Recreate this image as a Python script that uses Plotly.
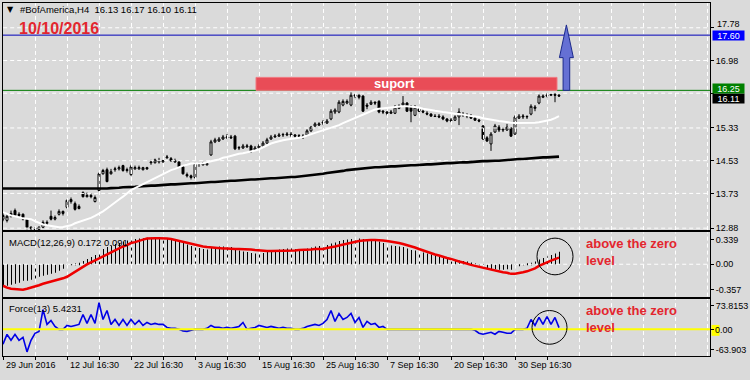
import plotly.graph_objects as go

# ---------------- data ----------------
header_text = "#BofAmerica,H4  16.13 16.17 16.10 16.11"
date_text = "10/10/2016"
macd_label = "MACD(12,26,9) 0.172 0.091"
force_label = "Force(13) 5.4231"
zone_label = "suport"
note_text = "above the zero<br>level"

open_ = [13.10,13.07,13.17,13.31,13.19,13.22,13.10,12.90,12.88,12.85,
         12.90,13.00,13.17,13.10,13.22,13.29,13.39,13.53,13.48,13.36,
         13.75,13.65,13.68,13.53,13.80,14.21,14.31,14.21,14.31,14.33,
         14.41,14.29,14.19,14.33,14.33,14.31,14.36,14.48,14.48,14.50,
         14.50,14.60,14.58,14.53,14.50,14.38,14.19,14.16,14.12,14.45,
         14.43,14.43,14.67,14.99,15.01,15.06,15.09,15.11,15.13,14.84,
         14.84,14.87,14.89,14.79,14.84,14.89,14.96,15.06,15.11,15.13,
         15.16,15.16,15.18,15.16,15.13,15.11,15.16,15.26,15.38,15.40,
         15.45,15.45,15.55,15.72,15.72,15.89,15.94,15.89,16.11,16.13,
         16.11,15.89,15.91,15.96,15.98,15.74,15.72,15.69,15.69,15.81,
         15.89,15.94,15.84,15.64,15.79,15.74,15.69,15.67,15.62,15.62,
         15.60,15.55,15.50,15.52,15.60,15.67,15.64,15.62,15.57,15.52,
         15.38,15.09,14.94,15.23,15.35,15.28,15.28,15.33,15.18,15.57,
         15.60,15.60,15.67,15.81,15.94,16.08,16.11,16.13,16.15,16.13]
high = [13.27,13.22,13.31,13.36,13.27,13.24,13.12,12.93,12.90,12.93,
        13.07,13.07,13.31,13.19,13.34,13.31,13.58,13.63,13.53,13.46,
        13.78,13.75,13.73,13.68,14.24,14.33,14.36,14.33,14.38,14.41,
        14.43,14.36,14.43,14.41,14.41,14.38,14.38,14.55,14.58,14.60,
        14.55,14.67,14.62,14.58,14.53,14.41,14.24,14.19,14.48,14.48,
        14.50,14.48,15.04,15.09,15.11,15.16,15.18,15.16,15.16,14.89,
        14.94,14.94,14.92,14.89,14.94,15.01,15.09,15.16,15.18,15.21,
        15.21,15.23,15.23,15.18,15.18,15.18,15.30,15.38,15.47,15.47,
        15.52,15.55,15.79,15.81,16.01,16.03,16.03,16.20,16.18,16.15,
        16.13,15.94,16.01,15.98,16.01,15.77,15.74,15.77,15.89,15.91,
        16.11,15.96,15.89,15.89,15.84,15.79,15.74,15.69,15.67,15.67,
        15.64,15.57,15.57,15.64,15.81,15.72,15.69,15.67,15.60,15.55,
        15.40,15.13,15.23,15.43,15.40,15.35,15.43,15.35,15.64,15.67,
        15.67,15.64,15.91,15.89,16.15,16.15,16.18,16.18,16.18,16.17]
low = [13.05,13.02,13.14,13.17,13.14,13.07,12.85,12.83,12.83,12.83,
       12.88,12.95,13.07,13.07,13.19,13.19,13.36,13.48,13.31,13.34,
       13.63,13.63,13.61,13.51,13.78,14.19,14.00,14.19,14.26,14.29,
       14.26,14.24,14.16,14.31,14.31,14.29,14.31,14.43,14.46,14.46,
       14.48,14.58,14.50,14.48,14.36,14.19,14.12,14.07,14.09,14.38,
       14.41,14.41,14.65,14.96,14.99,15.04,15.06,15.06,14.79,14.79,
       14.82,14.84,14.72,14.77,14.82,14.87,14.94,15.04,15.09,15.11,
       15.11,15.13,15.11,15.09,15.09,15.06,15.13,15.23,15.35,15.38,
       15.40,15.43,15.52,15.67,15.69,15.86,15.91,15.86,16.06,16.03,
       15.72,15.79,15.89,15.89,15.69,15.67,15.64,15.67,15.67,15.79,
       15.86,15.72,15.47,15.62,15.72,15.69,15.64,15.60,15.60,15.57,
       15.52,15.47,15.47,15.50,15.40,15.60,15.57,15.55,15.50,15.47,
       15.04,14.99,14.77,15.21,15.23,15.23,15.26,15.11,15.16,15.55,
       15.55,15.55,15.64,15.74,15.91,16.06,16.08,16.11,15.96,16.10]
close = [13.19,13.17,13.24,13.19,13.22,13.10,12.90,12.88,12.85,12.90,
         13.02,13.02,13.10,13.14,13.29,13.24,13.56,13.58,13.34,13.41,
         13.65,13.68,13.65,13.63,14.21,14.29,14.02,14.26,14.33,14.36,
         14.29,14.31,14.38,14.36,14.36,14.36,14.33,14.50,14.55,14.53,
         14.53,14.62,14.53,14.50,14.38,14.21,14.16,14.12,14.46,14.46,
         14.46,14.46,14.99,15.04,15.06,15.11,15.11,15.09,14.82,14.85,
         14.89,14.89,14.75,14.84,14.89,14.96,15.04,15.11,15.13,15.16,
         15.17,15.18,15.16,15.13,15.14,15.13,15.26,15.35,15.43,15.43,
         15.47,15.50,15.74,15.77,15.96,15.98,15.98,16.13,16.13,16.08,
         15.74,15.86,15.96,15.94,15.72,15.72,15.69,15.72,15.84,15.86,
         15.94,15.74,15.74,15.84,15.74,15.72,15.67,15.62,15.61,15.60,
         15.55,15.50,15.52,15.60,15.72,15.64,15.62,15.57,15.52,15.50,
         15.06,15.01,15.18,15.38,15.28,15.30,15.35,15.13,15.60,15.62,
         15.62,15.61,15.86,15.84,16.11,16.11,16.13,16.15,16.13,16.11]
ma_fast = [13.27,13.22,13.19,13.17,13.14,13.12,13.11,13.10,13.05,13.01,
           12.97,12.95,12.93,12.91,12.90,12.91,12.93,12.95,13.00,13.03,
           13.07,13.10,13.13,13.18,13.23,13.29,13.36,13.44,13.51,13.58,
           13.65,13.74,13.81,13.86,13.91,13.96,14.01,14.05,14.10,14.15,
           14.20,14.25,14.30,14.33,14.37,14.41,14.43,14.46,14.46,14.46,
           14.47,14.49,14.52,14.54,14.56,14.60,14.62,14.65,14.67,14.70,
           14.71,14.73,14.75,14.78,14.81,14.86,14.90,14.95,14.98,15.01,
           15.03,15.05,15.06,15.07,15.09,15.11,15.15,15.18,15.21,15.24,
           15.27,15.30,15.34,15.36,15.40,15.45,15.49,15.53,15.57,15.61,
           15.66,15.69,15.74,15.78,15.80,15.81,15.83,15.84,15.85,15.86,
           15.86,15.86,15.85,15.84,15.83,15.80,15.79,15.77,15.75,15.73,
           15.72,15.71,15.69,15.68,15.67,15.66,15.64,15.62,15.61,15.60,
           15.57,15.55,15.54,15.51,15.50,15.49,15.47,15.46,15.45,15.45,
           15.45,15.45,15.45,15.46,15.47,15.49,15.50,15.53,15.57,15.62]
ma_slow = [13.85,13.85,13.85,13.85,13.85,13.85,13.85,13.85,13.84,13.84,
           13.84,13.84,13.84,13.84,13.84,13.84,13.84,13.84,13.84,13.84,
           13.84,13.84,13.84,13.84,13.84,13.85,13.85,13.86,13.86,13.87,
           13.88,13.88,13.89,13.89,13.90,13.91,13.91,13.92,13.92,13.93,
           13.94,13.94,13.95,13.95,13.96,13.97,13.97,13.98,13.98,13.99,
           14.00,14.00,14.01,14.01,14.02,14.03,14.03,14.04,14.04,14.05,
           14.06,14.06,14.07,14.07,14.08,14.09,14.09,14.10,14.10,14.11,
           14.12,14.12,14.13,14.13,14.14,14.15,14.16,14.17,14.19,14.20,
           14.21,14.23,14.24,14.26,14.27,14.28,14.30,14.31,14.32,14.34,
           14.35,14.36,14.36,14.37,14.37,14.38,14.38,14.39,14.39,14.40,
           14.41,14.41,14.42,14.42,14.43,14.43,14.44,14.44,14.45,14.46,
           14.46,14.47,14.47,14.48,14.48,14.49,14.49,14.50,14.51,14.51,
           14.52,14.52,14.53,14.53,14.53,14.54,14.55,14.55,14.56,14.57,
           14.57,14.58,14.59,14.59,14.60,14.61,14.61,14.62,14.62,14.63]
macd_main = [-0.298,-0.298,-0.284,-0.270,-0.257,-0.229,-0.229,-0.215,-0.202,-0.174,
             -0.160,-0.147,-0.133,-0.119,-0.091,-0.064,-0.023,-0.009,0.005,0.019,
             0.046,0.074,0.101,0.129,0.170,0.211,0.239,0.259,0.280,0.294,
             0.314,0.328,0.335,0.349,0.356,0.362,0.369,0.369,0.369,0.369,
             0.369,0.362,0.356,0.342,0.321,0.294,0.273,0.252,0.239,0.225,
             0.211,0.204,0.225,0.239,0.246,0.246,0.246,0.239,0.211,0.191,
             0.177,0.170,0.156,0.149,0.149,0.156,0.170,0.184,0.197,0.204,
             0.211,0.218,0.218,0.211,0.211,0.211,0.218,0.232,0.246,0.252,
             0.259,0.266,0.287,0.301,0.321,0.335,0.342,0.349,0.356,0.356,
             0.349,0.342,0.335,0.328,0.314,0.294,0.273,0.259,0.252,0.246,
             0.239,0.218,0.197,0.191,0.177,0.163,0.149,0.135,0.122,0.108,
             0.094,0.080,0.067,0.060,0.053,0.046,0.039,0.025,0.012,-0.002,
             -0.036,-0.064,-0.071,-0.071,-0.078,-0.078,-0.071,-0.078,-0.043,-0.023,
             -0.009,0.005,0.019,0.039,0.067,0.087,0.108,0.129,0.149,0.172]
macd_signal = [-0.298,-0.325,-0.339,-0.346,-0.353,-0.353,-0.339,-0.325,-0.311,-0.291,
               -0.270,-0.256,-0.243,-0.229,-0.215,-0.195,-0.174,-0.140,-0.105,-0.064,
               -0.030,-0.002,0.025,0.053,0.080,0.108,0.142,0.170,0.197,0.218,
               0.246,0.266,0.294,0.307,0.328,0.342,0.356,0.362,0.362,0.362,
               0.362,0.356,0.349,0.335,0.328,0.314,0.301,0.280,0.266,0.252,
               0.246,0.239,0.232,0.232,0.225,0.218,0.218,0.211,0.211,0.211,
               0.211,0.204,0.204,0.197,0.191,0.191,0.184,0.184,0.184,0.184,
               0.184,0.191,0.191,0.191,0.197,0.197,0.204,0.204,0.211,0.211,
               0.211,0.225,0.232,0.246,0.259,0.273,0.287,0.301,0.314,0.321,
               0.328,0.335,0.335,0.335,0.335,0.328,0.321,0.314,0.301,0.294,
               0.280,0.266,0.252,0.232,0.211,0.191,0.170,0.149,0.135,0.122,
               0.101,0.087,0.074,0.053,0.039,0.025,0.005,-0.009,-0.023,-0.036,
               -0.050,-0.064,-0.078,-0.084,-0.098,-0.112,-0.119,-0.133,-0.133,-0.126,
               -0.112,-0.098,-0.078,-0.057,-0.023,0.005,0.025,0.050,0.072,0.091]
force = [-46.3,-15.5,-34.0,-15.5,-34.0,-24.8,-70.0,-34.0,-12.4,-6.3,
         61.5,15.3,27.6,9.1,0,0,12.2,9.1,12.2,15.3,
         46.1,18.4,46.1,18.4,83.1,30.7,58.4,15.3,30.7,12.2,
         30.7,12.2,30.7,15.3,27.6,12.2,21.4,15.3,18.4,15.3,
         15.3,6.0,3.0,3.0,0,-4.7,-6.3,-3.2,0,0,
         0,3.0,12.2,6.0,6.0,3.0,6.0,3.0,6.0,9.1,
         21.4,0,3.0,6.0,12.2,9.1,6.0,9.1,6.0,3.0,
         6.0,3.0,3.0,0,0,3.0,9.1,12.2,15.3,12.2,
         18.4,30.7,58.4,24.6,49.2,30.7,36.9,49.2,21.4,36.9,
         6.0,24.6,15.3,18.4,6.0,9.1,0,0,0,0,
         0,0,0,0,0,0,0,0,0,0,
         0,0,0,0,0,0,0,0,-3.0,-12.2,
         -15.3,-12.2,-9.1,-15.3,-6.3,-9.1,-12.2,-12.2,0,0,
         0,3.0,30.7,12.2,36.9,15.3,39.9,15.3,36.9,5.4231]

price_ticks = [17.78, 16.98, 16.18, 15.33, 14.53, 13.73, 12.88]
price_tick_text = ["", "16.98", "", "15.33", "14.53", "13.73", "12.88"]
top_price_label = "17.78"
macd_ticks = [0.339, 0.0, -0.357]
macd_tick_text = ["0.339", "0.00", "-0.357"]
force_ticks = [73.8153, 0.0, -63.903]
force_tick_text = ["73.8153", "", "-63.903"]
time_labels = ["29 Jun 2016", "12 Jul 16:30", "22 Jul 16:30", "3 Aug 16:30",
               "15 Aug 16:30", "25 Aug 16:30", "7 Sep 16:30", "20 Sep 16:30",
               "30 Sep 16:30"]
time_label_bars = [0, 16, 32, 48, 64, 80, 96, 112, 128]

level_resist = 17.60
level_support = 16.25
bid_price = 16.11
zone_bars = (63.25, 138.5)
zone_prices = (16.25, 16.567)
arrow_bar = 140.85
arrow_prices = (16.25, 17.05, 17.85)

# ---------------- geometry (pixels) ----------------
W, H = 750, 380
L, R = 3, 710
MAIN, MACDP, FORCEP = (3, 232), (234, 299), (301, 359)
BAR_PX = 4
BG = "#dadada"
FONT = "Liberation Sans, Arial, sans-serif"
DASH = "4px,3px"


def fx(p):
    return p / W


def fy(p):
    return 1 - p / H


def dom(box):
    return [fy(box[1]), fy(box[0])]


bars = list(range(len(close)))
xmax = (R - L) / BAR_PX
tick_bars = list(range(0, 137, 8))
grid_bars = list(range(8, 177, 8))

p_top = 17.78 + (28 - MAIN[0]) / 41.22
p_bot = 17.78 - (MAIN[1] - 28) / 41.22
m_top = (266.35 - MACDP[0]) / 72.7
m_bot = -(MACDP[1] - 266.35) / 72.7
f_top = (331.96 - FORCEP[0]) / 0.32458
f_bot = -(FORCEP[1] - 331.96) / 0.32458

fig = go.Figure()
grid_style = dict(color="white", width=1, dash=DASH)


def add_grid(xa, ya, lo, hi, hvals):
    for g in grid_bars:
        fig.add_trace(go.Scatter(x=[g + 0.125, g + 0.125], y=[lo + (hi - lo) * 0.001, hi - (hi - lo) * 0.001],
                                 mode="lines", xaxis=xa, yaxis=ya, hoverinfo="skip",
                                 line=grid_style))
    for v in hvals:
        fig.add_trace(go.Scatter(x=[0.05, xmax - 0.05], y=[v, v], mode="lines", xaxis=xa, yaxis=ya,
                                 hoverinfo="skip", line=grid_style))


add_grid("x", "y", p_bot, p_top, price_ticks)
add_grid("x2", "y2", m_bot, m_top, [0.0])
add_grid("x3", "y3", f_bot, f_top, [])

fig.add_trace(go.Candlestick(
    x=bars, open=open_, high=high, low=low, close=close,
    increasing=dict(line=dict(color="black", width=1), fillcolor="white"),
    decreasing=dict(line=dict(color="black", width=1), fillcolor="black"),
    whiskerwidth=0, xaxis="x", yaxis="y", hoverinfo="skip"))
fig.add_trace(go.Scatter(x=bars, y=ma_slow, mode="lines",
                         line=dict(color="black", width=2.6), xaxis="x", yaxis="y"))
fig.add_trace(go.Scatter(x=bars, y=ma_fast, mode="lines",
                         line=dict(color="white", width=2), xaxis="x", yaxis="y"))

fig.add_trace(go.Bar(x=bars, y=macd_main, width=0.25, offset=0,
                     marker=dict(color="black", line=dict(width=0)),
                     xaxis="x2", yaxis="y2"))
fig.add_trace(go.Scatter(x=bars, y=macd_signal, mode="lines",
                         line=dict(color="#ee0000", width=2.5), xaxis="x2", yaxis="y2"))

fig.add_trace(go.Scatter(x=bars, y=force, mode="lines",
                         line=dict(color="#0000e6", width=1.6), xaxis="x3", yaxis="y3"))

xcommon = dict(domain=[fx(L), fx(R)], range=[0, xmax], tickmode="array", tickvals=tick_bars,
               showticklabels=False, zeroline=False, showline=True, mirror=True, showgrid=False,
               linecolor="black", linewidth=1)
ycommon = dict(side="right", zeroline=False, showline=True, mirror=True, linecolor="black",
               linewidth=1, ticks="outside", ticklen=3, tickcolor="black", tickmode="array",
               showgrid=False, tickfont=dict(family=FONT, size=9, color="black"))

fig.update_layout(
    width=W, height=H, margin=dict(l=0, r=0, t=0, b=0),
    paper_bgcolor=BG, plot_bgcolor=BG, showlegend=False,
    font=dict(family=FONT, size=9, color="black"),
    xaxis=dict(anchor="y", ticks="", rangeslider=dict(visible=False), **xcommon),
    xaxis2=dict(anchor="y2", ticks="", **xcommon),
    xaxis3=dict(anchor="y3", ticks="outside", ticklen=3, tickcolor="black", **xcommon),
    yaxis=dict(anchor="x", domain=dom(MAIN), range=[p_bot, p_top], tickvals=price_ticks,
               ticktext=price_tick_text, **ycommon),
    yaxis2=dict(anchor="x2", domain=dom(MACDP), range=[m_bot, m_top], tickvals=macd_ticks,
                ticktext=macd_tick_text, **ycommon),
    yaxis3=dict(anchor="x3", domain=dom(FORCEP), range=[f_bot, f_top], tickvals=force_ticks,
                ticktext=force_tick_text, **ycommon),
)

shapes = [
    dict(type="line", xref="paper", yref="y", x0=fx(L), x1=fx(R), y0=level_resist, y1=level_resist,
         line=dict(color="#0000b8", width=1), layer="above"),
    dict(type="line", xref="paper", yref="y", x0=fx(L), x1=fx(R), y0=level_support, y1=level_support,
         line=dict(color="#007a00", width=1), layer="above"),
    dict(type="rect", xref="x", yref="y", x0=zone_bars[0], x1=zone_bars[1],
         y0=zone_prices[0], y1=zone_prices[1], fillcolor="#e94c57",
         line=dict(color="#f07880", width=1), layer="above"),
    dict(type="path", xref="x", yref="y", layer="above",
         path=(f"M {arrow_bar-0.83},{arrow_prices[0]} L {arrow_bar-0.83},{arrow_prices[1]} "
               f"L {arrow_bar-1.75},{arrow_prices[1]} L {arrow_bar},{arrow_prices[2]} "
               f"L {arrow_bar+1.75},{arrow_prices[1]} L {arrow_bar+0.83},{arrow_prices[1]} "
               f"L {arrow_bar+0.83},{arrow_prices[0]} Z"),
         fillcolor="#6570d4", line=dict(color="#1c2a8c", width=1)),
    dict(type="line", xref="paper", yref="y3", x0=fx(L), x1=fx(R), y0=0, y1=0,
         line=dict(color="#ffff00", width=2), layer="above"),
    dict(type="circle", xref="x2", yref="y2", x0=133.5, x1=142.5, y0=-0.1465, y1=0.362,
         line=dict(color="black", width=1), layer="above"),
    dict(type="circle", xref="x3", yref="y3", x0=132.25, x1=141.0, y0=-46.3, y1=58.4,
         line=dict(color="black", width=1), layer="above"),
    dict(type="rect", xref="paper", yref="paper", x0=fx(711.5), x1=fx(719.5), y0=fy(338.5),
         y1=fy(327.5), fillcolor="#ffff00", line=dict(width=0), layer="below"),
]
fig.update_layout(shapes=shapes)

red = "#e3262e"


def txt(x, y, text, size=9, color="black", xanchor="left", family=FONT, **kw):
    d = dict(xref="paper", yref="paper", x=fx(x), y=fy(y), text=text, showarrow=False,
             xanchor=xanchor, yanchor="middle", font=dict(family=family, size=size, color=color))
    d.update(kw)
    return d


ann = [
    txt(10, 10, "▼", size=8, xanchor="center", family="DejaVu Sans"),
    txt(18, 10, header_text, size=9.5),
    txt(17, 28.5, f"<b>{date_text}</b>", size=16, color=red),
    txt(715, 24.5, top_price_label, size=9),
    dict(xref="paper", yref="y", x=fx(394), y=(zone_prices[0] + zone_prices[1]) / 2,
         xanchor="center", yanchor="middle", text=f"<b>{zone_label}</b>", showarrow=False,
         font=dict(family=FONT, size=13, color="white")),
    txt(7, 244, macd_label, size=9.5),
    txt(7, 310.5, force_label, size=9.5),
    txt(584, 254.5, f"<b>{note_text}</b>", size=13, color=red, align="left"),
    txt(584, 322, f"<b>{note_text}</b>", size=13, color=red, align="left"),
    dict(xref="paper", yref="y", x=fx(712), y=level_resist, xanchor="left", yanchor="middle",
         text=f"{level_resist:.2f}", showarrow=False, bgcolor="#0000ff", width=31, height=9,
         borderpad=0, align="center", font=dict(family=FONT, size=9, color="white")),
    dict(xref="paper", yref="y", x=fx(712), y=bid_price, yshift=-2.7, xanchor="left", yanchor="middle",
         text=f"{bid_price:.2f}", showarrow=False, bgcolor="#000000", width=31, height=9,
         borderpad=0, align="center", font=dict(family=FONT, size=9, color="white")),
    dict(xref="paper", yref="y", x=fx(712), y=level_support, yshift=1.5, xanchor="left", yanchor="middle",
         text=f"{level_support:.2f}", showarrow=False, bgcolor="#008000", width=31, height=9,
         borderpad=0, align="center", font=dict(family=FONT, size=9, color="white")),
    txt(713, 333, "0.00", size=9),
]
for b, t in zip(time_label_bars, time_labels):
    ann.append(dict(xref="x3", yref="paper", x=b, y=fy(368), xanchor="left", yanchor="middle",
                    xshift=1, text=t, showarrow=False, font=dict(family=FONT, size=9, color="black")))
fig.update_layout(annotations=ann)

fig.write_html("out.html")
